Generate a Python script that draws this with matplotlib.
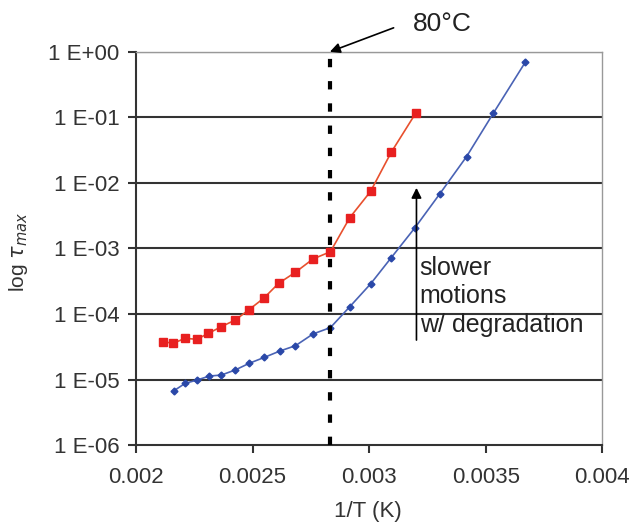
import matplotlib
matplotlib.use("Agg")
import matplotlib.pyplot as plt

plt.rcParams['font.family'] = ['Liberation Sans', 'DejaVu Sans']
plt.rcParams['lines.scale_dashes'] = False

# red series (squares)
red_x = [0.002115, 0.002160, 0.002210, 0.002261, 0.002311, 0.002366, 0.002426,
         0.002483, 0.002548, 0.002612, 0.002684, 0.002759, 0.002834,
         0.002917, 0.003006, 0.003095, 0.003200]
red_y = [3.78e-5, 3.57e-5, 4.25e-5, 4.11e-5, 5.07e-5, 6.4e-5, 8.1e-5,
         1.15e-4, 1.74e-4, 2.94e-4, 4.33e-4, 6.9e-4, 8.9e-4,
         2.95e-3, 7.4e-3, 2.94e-2, 0.116]

# blue series (diamonds)
blue_x = [0.002163, 0.002211, 0.002261, 0.002315, 0.002366, 0.002426, 0.002486,
          0.002551, 0.002617, 0.002684, 0.002759, 0.002834, 0.002917, 0.003006,
          0.003095, 0.003197, 0.003303, 0.003418, 0.003533, 0.003669]
blue_y = [6.75e-6, 8.75e-6, 9.8e-6, 1.13e-5, 1.17e-5, 1.40e-5, 1.77e-5,
          2.18e-5, 2.72e-5, 3.28e-5, 4.95e-5, 6.2e-5, 1.29e-4, 2.87e-4,
          7.24e-4, 2.08e-3, 6.8e-3, 2.52e-2, 0.116, 0.687]

x_ticks = [0.002, 0.0025, 0.003, 0.0035, 0.004]
x_labels = ["0.002", "0.0025", "0.003", "0.0035", "0.004"]
y_ticks = [1e-6, 1e-5, 1e-4, 1e-3, 1e-2, 1e-1, 1e0]
y_labels = ["1 E-06", "1 E-05", "1 E-04", "1 E-03", "1 E-02", "1 E-01", "1 E+00"]
t_80c = 1 / 353.15

fig = plt.figure(figsize=(6.31, 5.23), dpi=100)
ax = fig.add_axes([0.2155, 0.149, 0.739, 0.752])

ax.set_yscale('log')
ax.set_xlim(0.002, 0.004)
ax.set_ylim(1e-6, 1e0)

for yv in y_ticks[1:]:
    ax.axhline(yv, color='#333333', lw=1.5, zorder=1)

ax.plot(red_x, red_y, color='#e8502e', lw=1.2, marker='s', ms=5.5,
        mfc='#e82020', mec='#e82020', zorder=3)
ax.plot(blue_x, blue_y, color='#4a63b5', lw=1.2, marker='D', ms=3.5,
        mfc='#2a48a8', mec='#2a48a8', zorder=3)

ax.axvline(t_80c, color='black', lw=3, dashes=(6, 10), zorder=4)

ax.set_xticks(x_ticks)
ax.set_xticklabels(x_labels)
ax.set_yticks(y_ticks)
ax.set_yticklabels(y_labels)
ax.minorticks_off()
ax.tick_params(axis='both', labelsize=16, colors='#333333', direction='out',
               length=6, width=1.5, pad=6)
ax.tick_params(axis='x', pad=10)

for side in ['top', 'right']:
    ax.spines[side].set_color('#999999')
    ax.spines[side].set_linewidth(1)
for side in ['left', 'bottom']:
    ax.spines[side].set_color('#333333')
    ax.spines[side].set_linewidth(1.5)

fig.text(368 / 631, 1 - 511 / 523, "1/T (K)", fontsize=16, color='#333333',
         ha='center', va='center')
fig.text(18 / 631, 1 - 252 / 523, r"log $\tau_{max}$", fontsize=15,
         color='#333333', ha='center', va='center', rotation=90)

# 80°C label and arrow pointing at the top of the dashed line
ax.text(0.003187, 2.68, "80°C", fontsize=19, color='#222222',
        ha='left', va='center', clip_on=False)
ax.annotate("", xy=(t_80c, 1.0), xytext=(0.003105, 2.32),
            annotation_clip=False,
            arrowprops=dict(arrowstyle='-|>', color='black', lw=1.2,
                            mutation_scale=15, shrinkA=0, shrinkB=0))

ax.annotate("", xy=(0.003203, 8.4e-3), xytext=(0.003203, 4.0e-5),
            arrowprops=dict(arrowstyle='-|>', color='black', lw=1.2,
                            mutation_scale=15, shrinkA=0, shrinkB=0))
ax.text(0.003217, 7.6e-4, "slower\nmotions\nw/ degradation", fontsize=18,
        color='#222222', ha='left', va='top', linespacing=1.22)

fig.savefig("out.png", dpi=100)
